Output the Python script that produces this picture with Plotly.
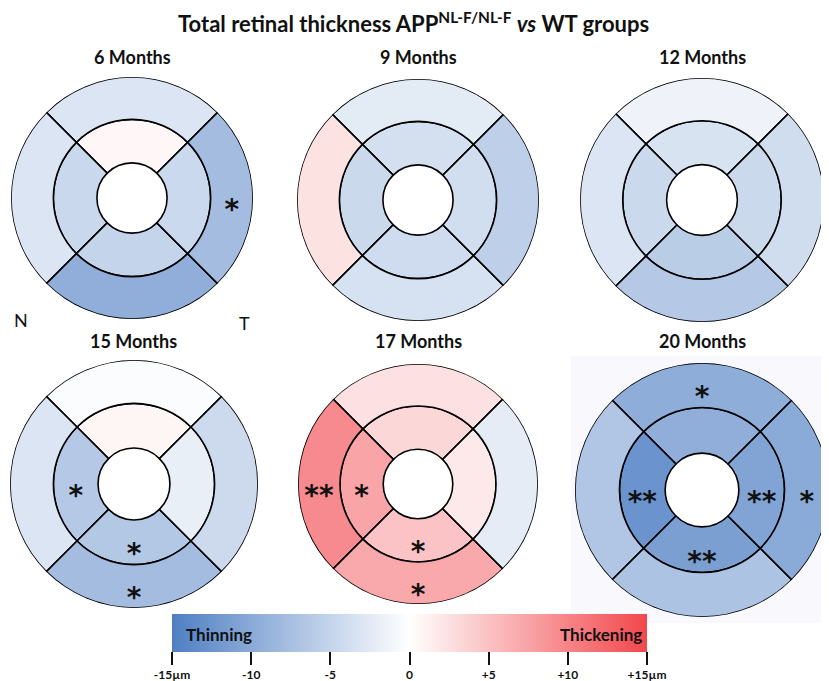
import plotly.graph_objects as go

W, H = 829, 681

# ---------------- data ----------------
panels = ["6 Months", "9 Months", "12 Months", "15 Months", "17 Months", "20 Months"]
sectors = ["Superior", "Nasal", "Inferior", "Temporal"]
sector_theta = [90, 180, 270, 0]

# thickness difference (µm) APP vs WT, per sector: [Superior, Nasal, Inferior, Temporal]
inner_vals = [
    [0.7, -4.6, -5.0, -4.5],
    [-3.7, -4.4, -4.1, -3.9],
    [-3.3, -4.4, -5.9, -4.4],
    [0.8, -6.3, -6.5, -1.9],
    [3.3, 7.3, 4.9, 1.8],
    [-9.5, -12.6, -11.2, -10.7],
]
outer_vals = [
    [-3.0, -3.0, -9.5, -7.8],
    [-2.4, 2.4, -3.5, -5.5],
    [-1.4, -3.0, -6.3, -4.0],
    [-0.3, -3.0, -7.8, -4.3],
    [2.5, 9.5, 7.0, -2.2],
    [-9.6, -6.7, -7.0, -10.0],
]
inner_sig = [
    ["", "", "", ""],
    ["", "", "", ""],
    ["", "", "", ""],
    ["", "*", "*", ""],
    ["", "*", "*", ""],
    ["", "**", "**", "**"],
]
outer_sig = [
    ["", "", "", "*"],
    ["", "", "", ""],
    ["", "", "", ""],
    ["", "", "*", ""],
    ["", "**", "*", ""],
    ["*", "", "", "*"],
]
cbar_tickvals = [-15, -10, -5, 0, 5, 10, 15]
cbar_ticktext = ["-15µm", "-10", "-5", "0", "+5", "+10", "+15µm"]

# ---------------- layout geometry (px) ----------------
centers = [(124, 190), (410, 192), (694, 192), (126, 476), (410, 476), (694, 482)]
radii = [121, 121, 122, 124, 120, 127]
title_y = [49, 49, 49, 333, 333, 333]
R_HOLE, R_MID, R_OUT = 0.29, 0.65, 1.0

FONT = "Lato"
fig = go.Figure()
layout_polars = {}
annotations = []

for i, name in enumerate(panels):
    pid = "polar" if i == 0 else f"polar{i+1}"
    cx, cy = centers[i]
    rr = radii[i]
    layout_polars[pid] = dict(
        domain=dict(x=[(cx - rr) / W, (cx + rr) / W], y=[1 - (cy + rr) / H, 1 - (cy - rr) / H]),
        bgcolor="white",
        radialaxis=dict(visible=False, range=[0, R_OUT]),
        angularaxis=dict(visible=False),
    )
    # inner ring
    fig.add_trace(go.Barpolar(
        r=[R_MID - R_HOLE] * 4, base=[R_HOLE] * 4, theta=sector_theta, width=[90] * 4,
        marker=dict(color=inner_vals[i], coloraxis="coloraxis", line=dict(color="black", width=1.6)),
        subplot=pid, showlegend=False, hoverinfo="skip",
    ))
    # outer ring
    fig.add_trace(go.Barpolar(
        r=[R_OUT - R_MID] * 4, base=[R_MID] * 4, theta=sector_theta, width=[90] * 4,
        marker=dict(color=outer_vals[i], coloraxis="coloraxis", line=dict(color="black", width=1.6)),
        subplot=pid, showlegend=False, hoverinfo="skip",
    ))
    # significance stars
    st_r, st_t, st_s = [], [], []
    for k in range(4):
        if inner_sig[i][k]:
            st_r.append((R_HOLE + R_MID) / 2); st_t.append(sector_theta[k]); st_s.append(inner_sig[i][k])
        if outer_sig[i][k]:
            st_r.append((R_MID + R_OUT) / 2); st_t.append(sector_theta[k]); st_s.append(outer_sig[i][k])
    if st_s:
        fig.add_trace(go.Scatterpolar(
            r=st_r, theta=st_t, text=st_s,
            mode="text", textposition="bottom center",
            textfont=dict(family="DejaVu Sans", size=28, color="#111", weight="bold"),
            subplot=pid, showlegend=False, hoverinfo="skip",
        ))
    annotations.append(dict(
        x=cx / W, y=1 - title_y[i] / H, xref="paper", yref="paper", text=f"<b>{name}</b>",
        showarrow=False, font=dict(family=FONT, size=18, color="#111"), xanchor="center", yanchor="middle",
    ))

annotations += [
    dict(x=405 / W, y=1 - 15 / H, xref="paper", yref="paper",
         text="<b>Total retinal thickness APP<sup>NL-F/NL-F</sup> <i>vs</i> WT groups</b>",
         showarrow=False, font=dict(family=FONT, size=22, color="#111"), xanchor="center", yanchor="middle"),
    dict(x=4 / W, y=1 - 312 / H, xref="paper", yref="paper", text="N", showarrow=False,
         font=dict(family=FONT, size=18, color="#111"), xanchor="left", yanchor="middle"),
    dict(x=236 / W, y=1 - 315 / H, xref="paper", yref="paper", text="T", showarrow=False,
         font=dict(family=FONT, size=18, color="#111"), xanchor="center", yanchor="middle"),
    dict(x=176 / W, y=1 - 626 / H, xref="paper", yref="paper", text="<b>Thinning</b>", showarrow=False,
         font=dict(family=FONT, size=17, color="#111"), xanchor="left", yanchor="middle"),
    dict(x=636 / W, y=1 - 626 / H, xref="paper", yref="paper", text="<b>Thickening</b>", showarrow=False,
         font=dict(family=FONT, size=17, color="#111"), xanchor="right", yanchor="middle"),
]

fig.update_layout(
    width=W, height=H, margin=dict(l=0, r=0, t=0, b=0),
    paper_bgcolor="white", plot_bgcolor="white", template="none",
    annotations=annotations,
    shapes=[dict(type="rect", xref="paper", yref="paper", x0=563 / W, x1=828 / W,
                 y0=1 - 615 / H, y1=1 - 348 / H, fillcolor="#f9f8fc", line=dict(width=0), layer="below")],
    coloraxis=dict(
        cmin=-15, cmax=15,
        colorscale=[[0, "#4f7fc3"], [0.5, "#ffffff"], [1, "#f2474c"]],
        colorbar=dict(
            orientation="h", x=401.5 / W, xanchor="center", y=1 - 606 / H, yanchor="top",
            len=475, lenmode="pixels", thickness=38, thicknessmode="pixels",
            outlinewidth=0, xpad=0, ypad=0,
            ticks="outside", ticklen=13, tickwidth=1.6, tickcolor="#111",
            tickvals=cbar_tickvals, ticktext=cbar_ticktext,
            tickfont=dict(family=FONT, size=12, color="#111", weight="bold"),
        ),
    ),
    **layout_polars,
)

fig.write_html("out.html")
